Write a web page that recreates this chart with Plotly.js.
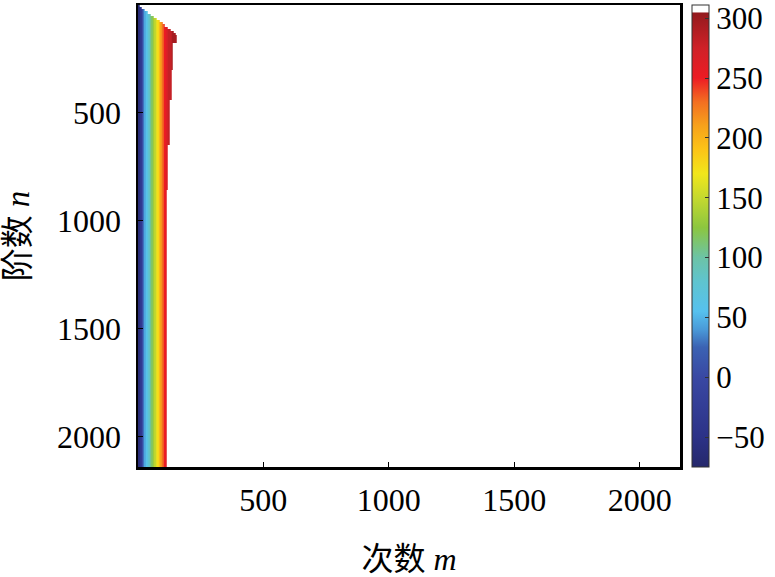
<!DOCTYPE html>
<html>
<head>
<meta charset="utf-8">
<script src="https://cdn.plot.ly/plotly-3.0.1.min.js"></script>
<style>html,body{margin:0;padding:0;background:#fff;}#chart{width:775px;height:577px;}</style>
</head>
<body>
<div id="chart"></div>
<script>
// Colour bands along the order m (band edges and value in each band)
const mBandEdges = [0, 8, 15, 20, 25, 32, 40, 46, 52, 58, 64, 70, 76, 82, 88, 94, 102, 110, 120, 135, 160];
const mBandValues = [-65, -40, -5, 25, 45, 60, 80, 100, 115, 130, 145, 160, 175, 190, 210, 230, 250, 265, 280, 295];

// Rows of degree n (edges) and the largest order m that carries data in each row
const rowEdgesN = [0, 10, 20, 30, 40, 50, 60, 70, 80, 90, 100, 110, 120, 130, 140, 175, 300, 440, 650, 855, 2160];
const rowMaxM   = [5, 15, 27, 38, 50, 62, 74, 86, 98, 108, 118, 130, 142, 152, 154, 138, 133, 126, 119, 114];

// Axis ticks
const xTicks = [500, 1000, 1500, 2000];
const yTicks = [500, 1000, 1500, 2000];
const cbTicks = [-50, 0, 50, 100, 150, 200, 250, 300];

// Build a fine grid of cells (width 2 in m) from the bands and row limits
const cellStep = 2;
const xEdges = [];
for (let m = 0; m <= 160; m += cellStep) xEdges.push(m);
const z = [];
for (let i = 0; i < rowMaxM.length; i++) {
  const row = [];
  for (let j = 0; j < xEdges.length - 1; j++) {
    const c = (xEdges[j] + xEdges[j + 1]) / 2;
    let v = null;
    if (c <= rowMaxM[i]) {
      for (let k = 0; k < mBandValues.length; k++) {
        if (c >= mBandEdges[k] && c < mBandEdges[k + 1]) { v = mBandValues[k]; break; }
      }
    }
    row.push(v);
  }
  z.push(row);
}

const cmin = -75, cmax = 311;
const stops = [
  [-75, '#25286b'], [-50, '#2c3287'], [0, '#3948a3'], [25, '#3b62b3'], [40, '#4a9ad8'],
  [55, '#56c1ee'], [80, '#5fc4cf'], [100, '#6cc3a6'], [125, '#8cc63f'], [150, '#c5d92f'],
  [170, '#f1e61b'], [190, '#fcc417'], [210, '#f7a21b'], [230, '#f36f21'], [250, '#ed1c24'],
  [275, '#cf2128'], [300, '#9c1b1f'], [304.5, '#931a1e'], [305, '#ffffff'], [311, '#ffffff']
];
const colorscale = stops.map(s => [(s[0] - cmin) / (cmax - cmin), s[1]]);

const serif = 'Liberation Serif, Noto Sans CJK SC, serif';

const trace = {
  type: 'heatmap',
  x: xEdges,
  y: rowEdgesN,
  z: z,
  zmin: cmin,
  zmax: cmax,
  colorscale: colorscale,
  hoverinfo: 'skip',
  colorbar: {
    x: 1.022, xanchor: 'left', xpad: 0, ypad: 0,
    y: 0.5, yanchor: 'middle', len: 1, lenmode: 'fraction',
    thickness: 17,
    outlinewidth: 1, outlinecolor: '#333',
    ticks: 'inside', ticklen: 4, tickcolor: '#333',
    tickvals: cbTicks,
    tickfont: {family: serif, size: 31, color: '#000'}
  }
};

const axisCommon = {
  showgrid: false, zeroline: false,
  showline: true, linewidth: 2.5, linecolor: '#000', mirror: true,
  ticks: 'inside', ticklen: 5, tickwidth: 1, tickcolor: '#000',
  tickfont: {family: serif, size: 32, color: '#000'}
};

const layout = {
  width: 775, height: 577,
  margin: {l: 138, r: 95, t: 5, b: 110},
  paper_bgcolor: '#fff', plot_bgcolor: '#fff',
  xaxis: Object.assign({}, axisCommon, {
    range: [1, 2160], tickmode: 'array', tickvals: xTicks,
    ticklabelstandoff: 3,
    title: {text: '次数 <i>m</i>', font: {family: serif, size: 32, color: '#000'}, standoff: 32}
  }),
  yaxis: Object.assign({}, axisCommon, {
    range: [2140, 0], tickmode: 'array', tickvals: yTicks,
    ticklabelstandoff: 8,
    title: {text: '阶数 <i>n</i>', font: {family: serif, size: 33, color: '#000'}, standoff: 24}
  }),
  showlegend: false
};

Plotly.newPlot('chart', [trace], layout, {displayModeBar: false, staticPlot: true});
</script>
</body>
</html>
